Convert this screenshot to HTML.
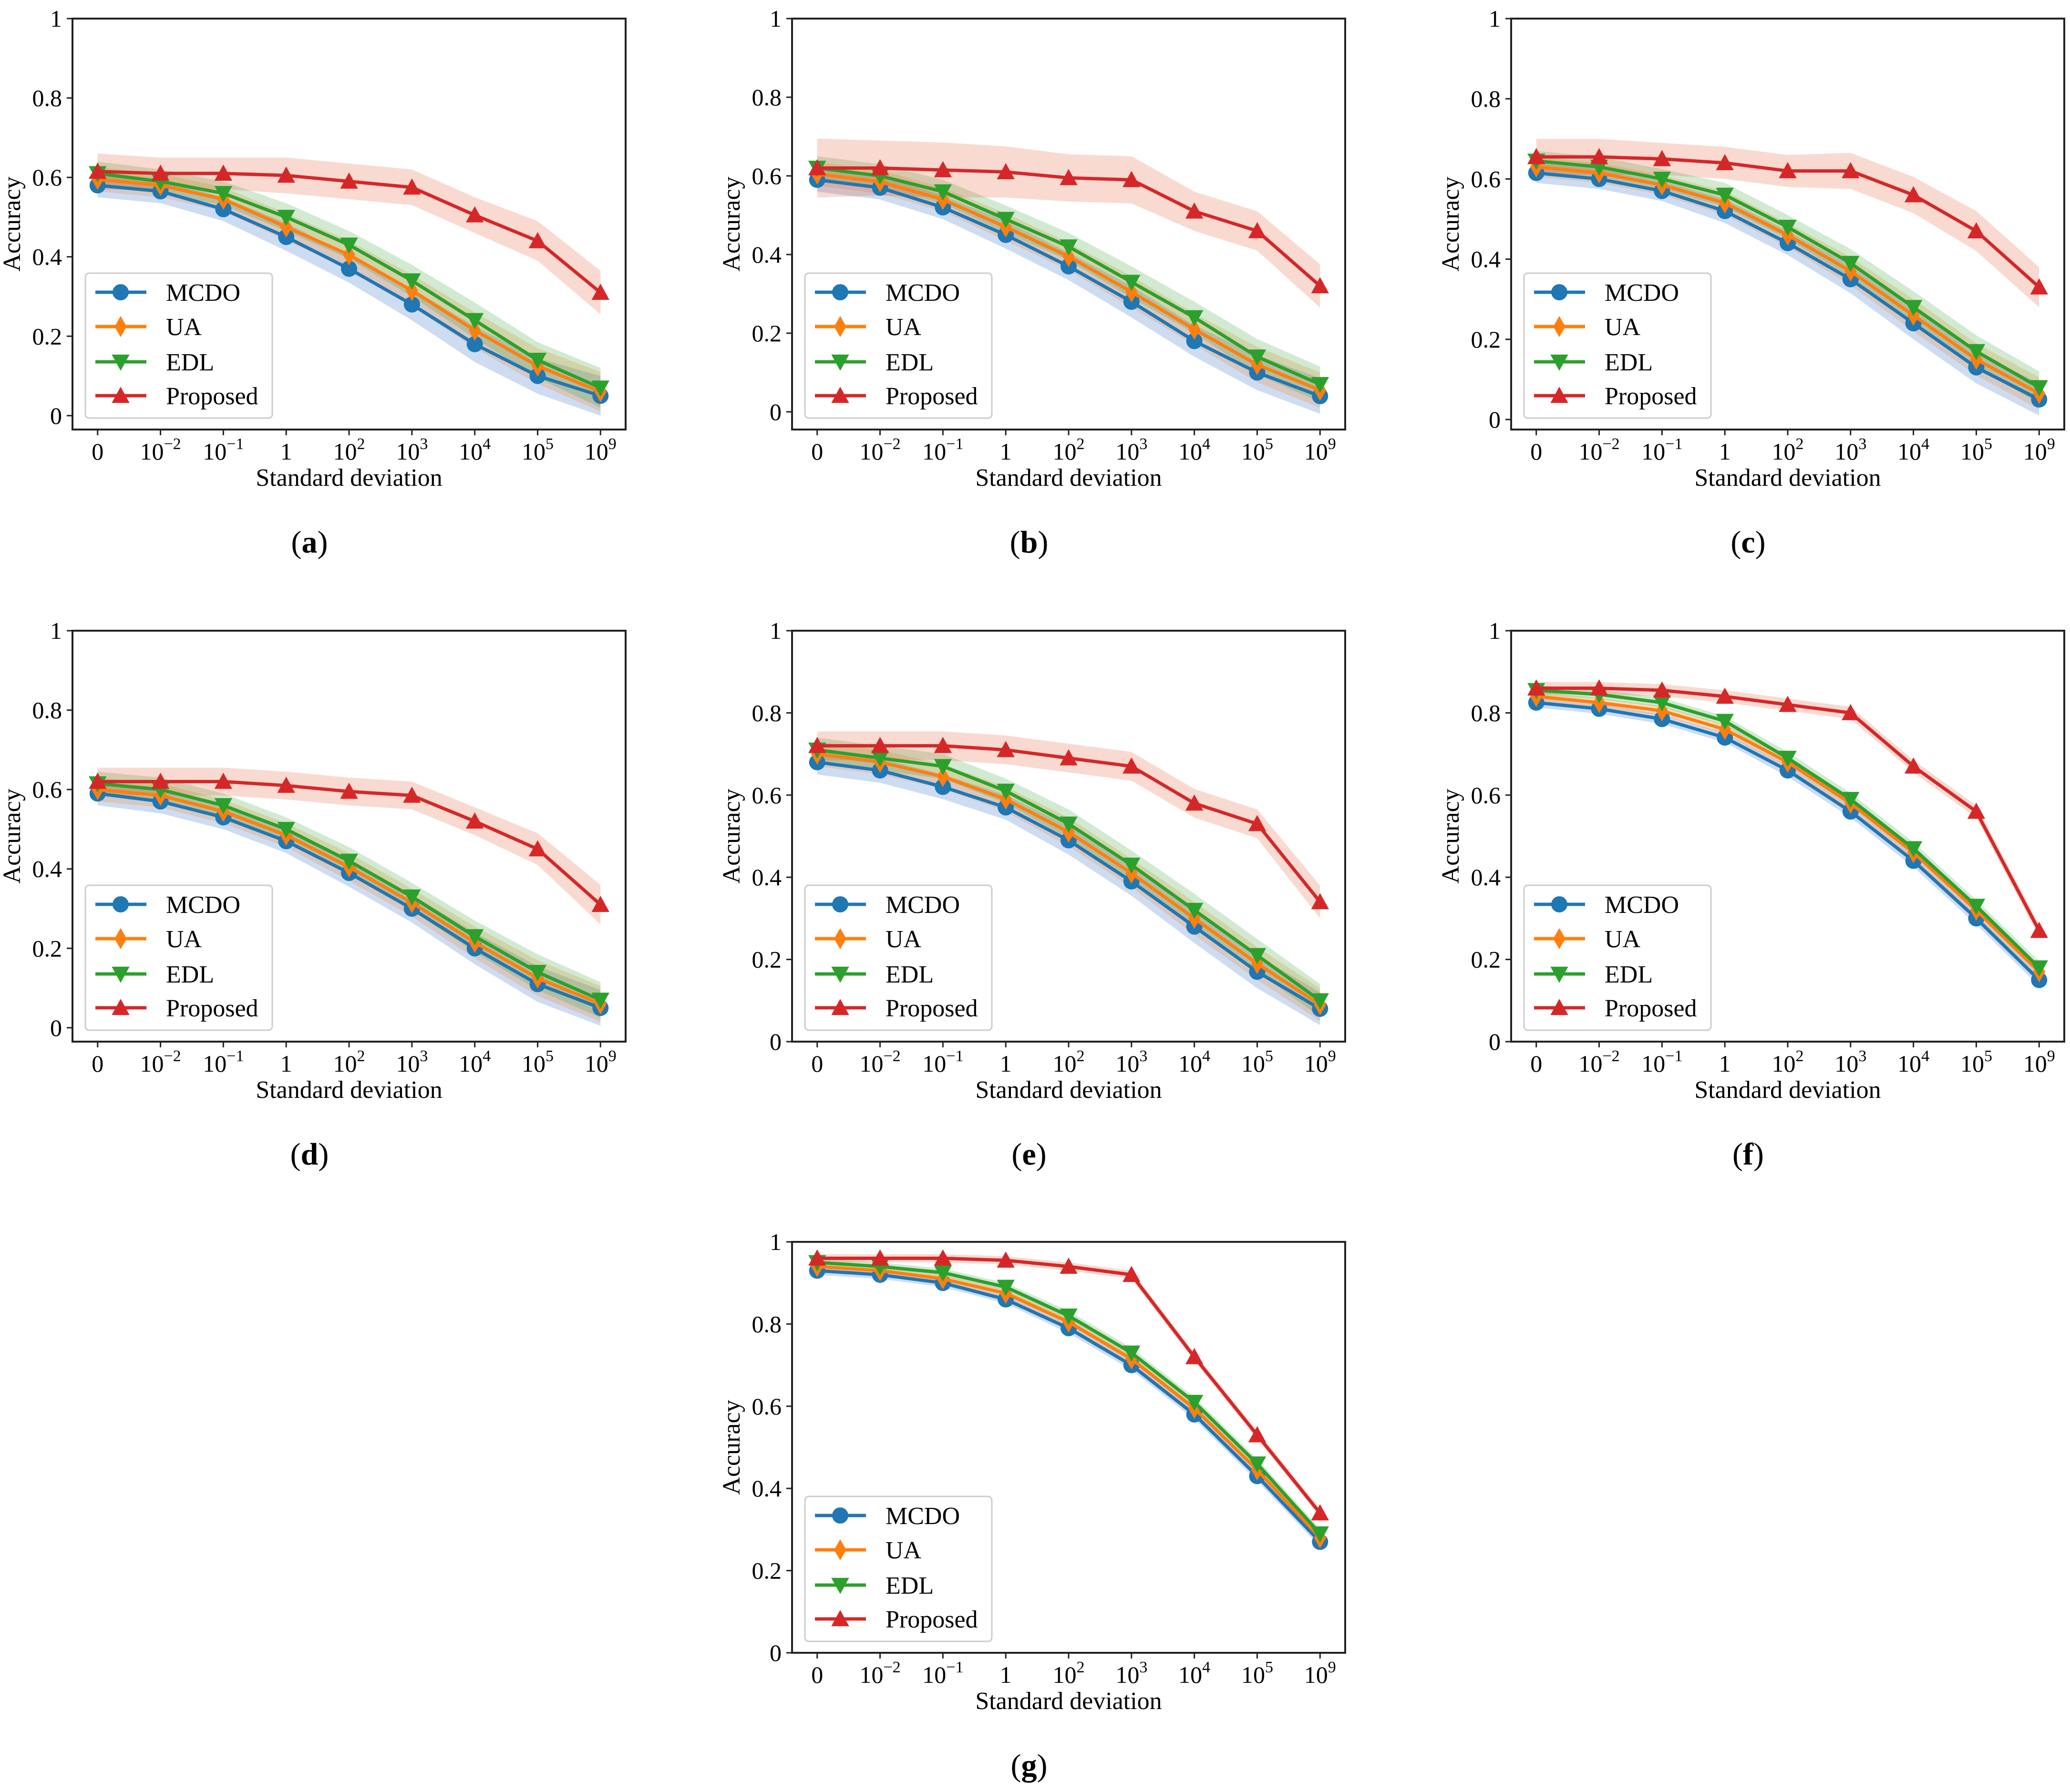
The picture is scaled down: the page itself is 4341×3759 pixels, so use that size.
<!DOCTYPE html>
<html><head><meta charset="utf-8"><style>html,body{margin:0;padding:0;background:#fff}svg{display:block}</style></head>
<body>
<svg id="fig" xmlns="http://www.w3.org/2000/svg" width="4341" height="3759" viewBox="0 0 4341 3759" font-family="'Liberation Serif', serif"></svg>
<script>
const categories = ["0","10^-2","10^-1","1","10^2","10^3","10^4","10^5","10^9"];
const yTicks = [0,0.2,0.4,0.6,0.8,1];
const yTickLabels = ["0","0.2","0.4","0.6","0.8","1"];
const methods = ["MCDO","UA","EDL","Proposed"];
const panelLabels = ["a","b","c","d","e","f","g"];
const yMins = [-0.035,-0.045,-0.025,-0.035,0,0,0];
const mcdo = [
 [.58,.565,.52,.45,.37,.28,.18,.10,.05],
 [.59,.57,.52,.45,.37,.28,.18,.10,.04],
 [.615,.60,.57,.52,.44,.35,.24,.13,.05],
 [.59,.57,.53,.47,.39,.30,.20,.11,.05],
 [.68,.66,.62,.57,.49,.39,.28,.17,.08],
 [.825,.81,.785,.74,.66,.56,.44,.30,.15],
 [.93,.92,.90,.86,.79,.70,.58,.43,.27]];
const ua = [
 [.595,.58,.545,.475,.405,.315,.215,.125,.06],
 [.605,.585,.54,.47,.395,.305,.21,.12,.055],
 [.63,.615,.585,.54,.46,.37,.26,.15,.065],
 [.60,.585,.545,.485,.405,.315,.215,.125,.06],
 [.70,.68,.645,.59,.51,.41,.30,.19,.09],
 [.84,.825,.805,.76,.68,.58,.46,.32,.17],
 [.94,.93,.91,.875,.805,.715,.595,.445,.28]];
const edl = [
 [.61,.59,.56,.50,.43,.34,.24,.14,.07],
 [.62,.60,.56,.49,.42,.33,.24,.14,.07],
 [.645,.63,.60,.56,.48,.39,.28,.17,.08],
 [.615,.60,.56,.50,.42,.33,.23,.14,.07],
 [.71,.69,.67,.61,.53,.43,.32,.21,.10],
 [.855,.845,.825,.78,.69,.59,.47,.33,.18],
 [.95,.94,.925,.89,.82,.73,.61,.46,.29]];
const proposed = [
 [.615,.61,.61,.605,.59,.575,.505,.44,.31],
 [.62,.62,.615,.61,.595,.59,.51,.46,.32],
 [.655,.655,.65,.64,.62,.62,.56,.47,.33],
 [.62,.62,.62,.61,.595,.585,.52,.45,.31],
 [.72,.72,.72,.71,.69,.67,.58,.53,.34],
 [.86,.86,.855,.84,.82,.80,.67,.56,.27],
 [.96,.96,.96,.955,.94,.92,.72,.53,.34]];
const sdProposed = [
 [.045,.04,.04,.045,.045,.045,.045,.05,.055],
 [.075,.07,.07,.065,.06,.06,.05,.05,.055],
 [.045,.045,.04,.04,.04,.045,.045,.05,.05],
 [.035,.035,.035,.035,.035,.035,.035,.04,.05],
 [.035,.035,.035,.035,.035,.035,.035,.035,.04],
 [.015,.015,.015,.015,.015,.015,.015,.015,.015],
 [.01,.01,.01,.01,.01,.01,.01,.01,.01]];
const sdOthers = [
 [.03,.03,.03,.035,.035,.04,.045,.045,.05],
 [.03,.03,.03,.035,.035,.04,.04,.045,.045],
 [.025,.025,.025,.03,.03,.035,.04,.04,.04],
 [.03,.03,.03,.03,.035,.035,.04,.045,.045],
 [.03,.03,.03,.03,.035,.035,.04,.04,.04],
 [.012,.012,.012,.012,.015,.015,.015,.015,.015],
 [.01,.01,.01,.01,.012,.012,.012,.012,.012]];

const colors = ["#1f77b4","#ff7f0e","#2ca02c","#d62728"];
const bandColors = ["#1f5fc4","#ff7f0e","#2ca02c","#e2572c"];
const NS = "http://www.w3.org/2000/svg";
const svg = document.getElementById("fig");
function mk(tag, attrs, parent){const e=document.createElementNS(NS,tag);for(const k in attrs)e.setAttribute(k,attrs[k]);(parent||svg).appendChild(e);return e;}
const origins = [[152,39],[1661,39],[3169,39],[152,1323],[1661,1323],[3169,1323],[1661,2605]];
const W=1160, H=862;

function marker(g, m, x, y, col){
  const r=17; let e;
  if(m===0){e=mk("circle",{cx:x,cy:y,r:r,fill:col},g);}
  else if(m===1){e=mk("polygon",{points:`${x},${y-r*1.3} ${x+r*0.75},${y} ${x},${y+r*1.3} ${x-r*0.75},${y}`,fill:col},g);}
  else if(m===2){e=mk("polygon",{points:`${x-r*1.1},${y-r*0.9} ${x+r*1.1},${y-r*0.9} ${x},${y+r*1.1}`,fill:col},g);}
  else {e=mk("polygon",{points:`${x-r*1.1},${y+r*0.9} ${x+r*1.1},${y+r*0.9} ${x},${y-r*1.1}`,fill:col},g);}
  return e;
}
function tickLabel(g, s, x, y){
  const t=mk("text",{x:x,y:y,"text-anchor":"middle","font-size":50},g);
  const p=s.split("^");
  t.appendChild(document.createTextNode(p[0]));
  if(p[1]){const ts=mk("tspan",{"font-size":34,dy:-22},t);ts.textContent=p[1].replace("-","\u2212");}
  return t;
}

for(let p=0;p<7;p++){
  const [ox,oy]=origins[p];
  const ymin=yMins[p], ymax=1.0;
  const xs=i=>ox+W*(i+0.4)/8.8;
  const ys=v=>oy+H*(ymax-v)/(ymax-ymin);
  const g=mk("g",{});
  
  
  const series=[mcdo[p],ua[p],edl[p],proposed[p]];
  const sds=[sdOthers[p],sdOthers[p],sdOthers[p],sdProposed[p]];
  for(let m=0;m<4;m++){
    let pts=[];
    series[m].forEach((v,i)=>pts.push(xs(i)+","+ys(v+sds[m][i])));
    for(let i=series[m].length-1;i>=0;i--)pts.push(xs(i)+","+ys(series[m][i]-sds[m][i]));
    const b=mk("polygon",{points:pts.join(" "),fill:bandColors[m],"fill-opacity":0.22},g);
    
    
  }
  for(let m=0;m<4;m++){
    const pl=mk("polyline",{points:series[m].map((v,i)=>xs(i)+","+ys(v)).join(" "),fill:"none",stroke:colors[m],"stroke-width":7,"stroke-linejoin":"round"},g);
    
    
    series[m].forEach((v,i)=>{
      const mkr=marker(g,m,xs(i),ys(v),colors[m]);
      
      
    });
  }
  const fr=mk("rect",{x:ox,y:oy,width:W,height:H,fill:"none",stroke:"#222","stroke-width":4},g);
  
  
  yTicks.forEach((v,i)=>{
    const y=ys(v);
    mk("line",{x1:ox-12,x2:ox,y1:y,y2:y,stroke:"#222","stroke-width":3},g);
    const t=mk("text",{x:ox-22,y:y+17,"text-anchor":"end","font-size":50},g);
    t.textContent=yTickLabels[i];
    
    
  });
  categories.forEach((c,i)=>{
    const x=xs(i);
    mk("line",{x1:x,x2:x,y1:oy+H,y2:oy+H+12,stroke:"#222","stroke-width":3},g);
    const t=tickLabel(g,c,x,oy+H+63);
    
    
  });
  const xl=mk("text",{x:ox+W/2,y:oy+980,"text-anchor":"middle","font-size":52},g);
  xl.textContent="Standard deviation";
  
  
  const yl=mk("text",{x:0,y:0,"text-anchor":"middle","font-size":52,transform:`translate(${ox-110},${oy+H/2}) rotate(-90)`},g);
  yl.textContent="Accuracy";
  
  
  const cap=mk("text",{x:ox+W/2-83,y:oy+1120,"text-anchor":"middle","font-size":66},g);
  const c1=mk("tspan",{},cap);c1.textContent="(";
  const c2=mk("tspan",{"font-weight":"bold"},cap);c2.textContent=panelLabels[p];
  const c3=mk("tspan",{},cap);c3.textContent=")";
  
  
  const lg=mk("g",{},g);
  
  
  mk("rect",{x:ox+27,y:oy+534,width:392,height:304,rx:8,fill:"#fff","fill-opacity":0.8,stroke:"#ccc","stroke-width":3},lg);
  const ey=[574,646,720,791];
  methods.forEach((name,m)=>{
    const y=oy+ey[m];
    const le=mk("g",{},lg);
    
    
    mk("line",{x1:ox+48,x2:ox+155,y1:y,y2:y,stroke:colors[m],"stroke-width":7},le);
    marker(le,m,ox+101,y,colors[m]);
    const t=mk("text",{x:ox+196,y:y+18,"font-size":52},le);
    t.textContent=name;
  });
}
</script>
</body></html>
